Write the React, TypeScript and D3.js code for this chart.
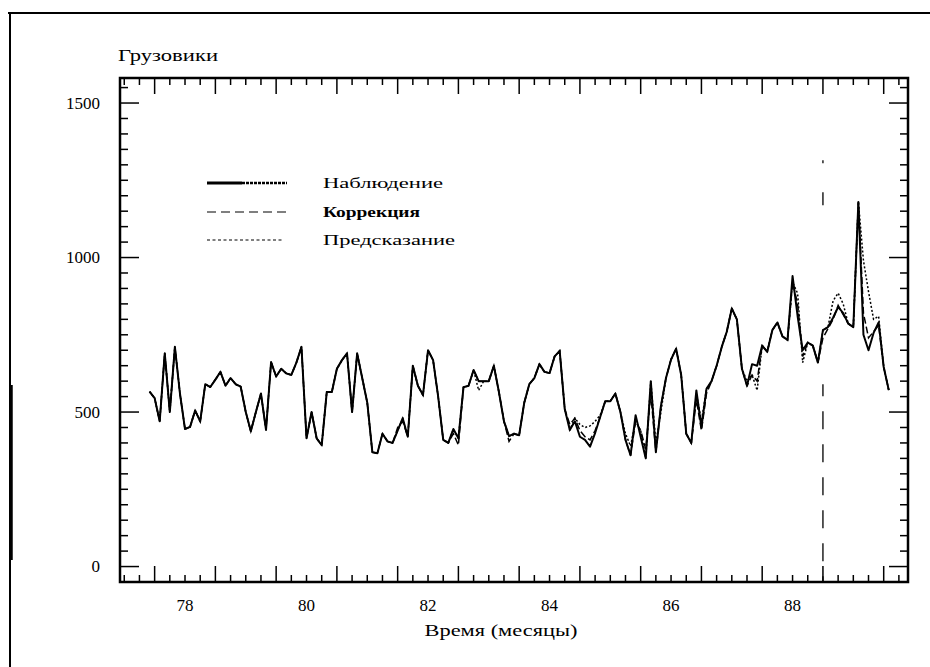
import React from "react";
import * as d3 from "d3";

// ---- data (monthly, starting June 1977) ----
const START_YEAR = 77 + 5 / 12;
const observed = [
  566, 545, 470, 690, 500, 711, 560, 445, 452, 505,
  470, 590, 581, 605, 630, 585, 610, 590, 582, 500,
  438, 500, 560, 442, 662, 615, 640, 625, 620, 660,
  711, 415, 500, 415, 393, 565, 565, 640, 668, 690,
  500, 690, 610, 530, 370, 367, 430, 405, 400, 440,
  480, 420, 650, 585, 555, 700, 668, 550, 410, 400,
  445, 415, 580, 585, 636, 600, 600, 600, 650, 565,
  470, 422, 430, 425, 530, 590, 610, 655, 630, 626,
  680, 698, 510, 442, 470, 420, 410, 388, 432, 484,
  535, 535, 560, 500, 410, 360, 490, 420, 350, 600,
  370, 520, 610, 670, 705, 620, 430, 400, 570, 450,
  575, 600, 650, 710, 760, 835, 800, 640, 585, 655,
  650, 715, 695, 765, 790, 745, 733, 940, 810, 700,
  725, 715, 660, 765, 775, 805, 840, 820, 786, 775,
  1180, 750, 700, 756, 790, 646, 571,
];
const correction = [
  566, 545, 470, 690, 500, 711, 560, 445, 452, 505,
  470, 590, 581, 605, 630, 585, 610, 590, 582, 500,
  438, 500, 560, 442, 662, 615, 640, 625, 620, 660,
  711, 415, 500, 415, 393, 565, 565, 640, 668, 690,
  500, 690, 610, 530, 370, 367, 430, 405, 400, 450,
  470, 420, 650, 585, 555, 700, 668, 550, 410, 400,
  430, 393, 580, 585, 636, 600, 600, 600, 650, 565,
  470, 405, 430, 425, 530, 590, 610, 655, 630, 626,
  680, 698, 510, 460, 480, 440, 420, 410, 440, 484,
  535, 535, 560, 500, 410, 360, 470, 440, 380, 560,
  370, 520, 610, 670, 705, 620, 430, 400, 540, 440,
  560, 600, 650, 710, 760, 835, 800, 640, 585, 620,
  600, 715, 695, 765, 790, 745, 733, 920, 850, 680,
  725, 715, 660, 740, 770, 800, 845, 815, 786, 775,
  1180, 820, 740, 760, 780, 646, 571,
];
const forecast = [
  566, 545, 470, 690, 500, 711, 560, 445, 452, 505,
  470, 590, 581, 605, 630, 585, 610, 590, 582, 500,
  438, 500, 560, 442, 662, 615, 640, 625, 620, 660,
  711, 415, 500, 415, 393, 565, 565, 640, 668, 690,
  500, 690, 610, 530, 370, 367, 430, 405, 400, 440,
  480, 420, 650, 585, 555, 700, 668, 550, 410, 400,
  445, 415, 580, 585, 636, 570, 600, 600, 650, 565,
  470, 422, 430, 425, 530, 590, 610, 655, 630, 626,
  680, 698, 510, 442, 480, 460, 450, 455, 470, 490,
  535, 535, 560, 500, 430, 390, 470, 440, 350, 600,
  400, 500, 610, 670, 705, 620, 430, 400, 560, 470,
  575, 600, 650, 710, 760, 835, 800, 640, 600, 620,
  570, 715, 695, 765, 790, 745, 733, 920, 884, 660,
  725, 715, 660, 765, 775, 860, 885, 850, 786, 775,
  1180, 990, 890, 800, 810, 646, 571,
];
const xTickLabels = [78, 80, 82, 84, 86, 88];
const yTickLabels = [0, 500, 1000, 1500];
const legendLabels = ["Наблюдение", "Коррекция", "Предсказание"];
const forecastStart = 88.5;
const titleText = "Грузовики";
const xAxisTitle = "Время (месяцы)";

const FONT = "'Liberation Serif', 'DejaVu Serif', serif";

export default function App() {
  const x = d3.scaleLinear().domain([76.93, 89.9]).range([120, 908]);
  const y = d3.scaleLinear().domain([-50, 1581]).range([582, 78]);
  const times = observed.map((_, i) => START_YEAR + i / 12);
  const line = d3
    .line<number>()
    .x((_, i) => x(times[i]))
    .y((d) => y(d));

  const xTicks = d3.range(77, 89.9, 0.25);
  const yTicks = d3.range(-50, 1551, 50);
  const [x0, x1] = x.range();
  const [yb, yt] = y.range();

  return (
    <svg
      width={930}
      height={667}
      style={{ position: "absolute", left: 0, top: 0, background: "#fff" }}
    >
      {/* page border fragments */}
      <line x1={8} x2={930} y1={13} y2={13} stroke="#000" strokeWidth={2} />
      <line x1={10} x2={10} y1={12} y2={667} stroke="#000" strokeWidth={2} />
      <line x1={11} x2={11} y1={385} y2={560} stroke="#000" strokeWidth={3.5} />

      {/* title */}
      <text x={118} y={61} fontFamily={FONT} fontSize={16} textLength={100} lengthAdjust="spacingAndGlyphs">
        {titleText}
      </text>

      {/* frame */}
      <rect x={x0} y={yt} width={x1 - x0} height={yb - yt} fill="none" stroke="#000" strokeWidth={2.5} />

      {/* x ticks bottom & top */}
      {xTicks.map((t, i) => {
        const major = Math.abs((t % 1) - 0.5) < 1e-6;
        const len = major ? 16 : 7;
        return (
          <g key={"xt" + i}>
            <line x1={x(t)} x2={x(t)} y1={yb} y2={yb - len} stroke="#000" strokeWidth={1.5} />
            <line x1={x(t)} x2={x(t)} y1={yt} y2={yt + len} stroke="#000" strokeWidth={1.5} />
          </g>
        );
      })}
      {/* y ticks left & right */}
      {yTicks.map((v, i) => {
        const major = v % 500 === 0;
        const len = major ? 19 : 8;
        return (
          <g key={"yt" + i}>
            <line x1={x0} x2={x0 + len} y1={y(v)} y2={y(v)} stroke="#000" strokeWidth={1.5} />
            <line x1={x1} x2={x1 - len} y1={y(v)} y2={y(v)} stroke="#000" strokeWidth={1.5} />
          </g>
        );
      })}

      {/* tick labels */}
      {xTickLabels.map((t) => (
        <text key={"xl" + t} x={x(t)} y={611} textAnchor="middle" fontFamily={FONT} fontSize={17}>
          {t}
        </text>
      ))}
      {yTickLabels.map((v) => (
        <text key={"yl" + v} x={100} y={y(v)} dy="0.35em" textAnchor="end" fontFamily={FONT} fontSize={17}>
          {v}
        </text>
      ))}
      <text x={501} y={636} textAnchor="middle" fontFamily={FONT} fontSize={17} textLength={153} lengthAdjust="spacingAndGlyphs">
        {xAxisTitle}
      </text>

      {/* forecast start marker */}
      <line
        x1={x(forecastStart)}
        x2={x(forecastStart)}
        y1={y(1315)}
        y2={yb}
        stroke="#000"
        strokeWidth={1.3}
        strokeDasharray="3,29,13,179,12,15,18,15,18,15,18,15,18,15,18,15,18,15,18,15"
      />

      {/* series */}
      <path d={line(forecast) || ""} fill="none" stroke="#000" strokeWidth={1.5} strokeDasharray="2,2" />
      <path d={line(correction) || ""} fill="none" stroke="#000" strokeWidth={1.5} strokeDasharray="7,3" />
      <path d={line(observed) || ""} fill="none" stroke="#000" strokeWidth={2} strokeLinejoin="round" />

      {/* legend */}
      <g>
        <line x1={207} x2={242} y1={183} y2={183} stroke="#000" strokeWidth={3} />
        <line x1={242} x2={287} y1={183} y2={183} stroke="#000" strokeWidth={2.5} strokeDasharray="3,1" />
        <text x={323} y={188} fontFamily={FONT} fontSize={15} textLength={120} lengthAdjust="spacingAndGlyphs">
          {legendLabels[0]}
        </text>
        <line x1={207} x2={287} y1={212} y2={212} stroke="#000" strokeWidth={1.2} strokeDasharray="9,5" />
        <text x={323} y={217} fontFamily={FONT} fontSize={15} fontWeight="bold" textLength={97} lengthAdjust="spacingAndGlyphs">
          {legendLabels[1]}
        </text>
        <line x1={207} x2={284} y1={240} y2={240} stroke="#000" strokeWidth={1.2} strokeDasharray="3,2.5" />
        <text x={323} y={245} fontFamily={FONT} fontSize={15} textLength={132} lengthAdjust="spacingAndGlyphs">
          {legendLabels[2]}
        </text>
      </g>
    </svg>
  );
}
